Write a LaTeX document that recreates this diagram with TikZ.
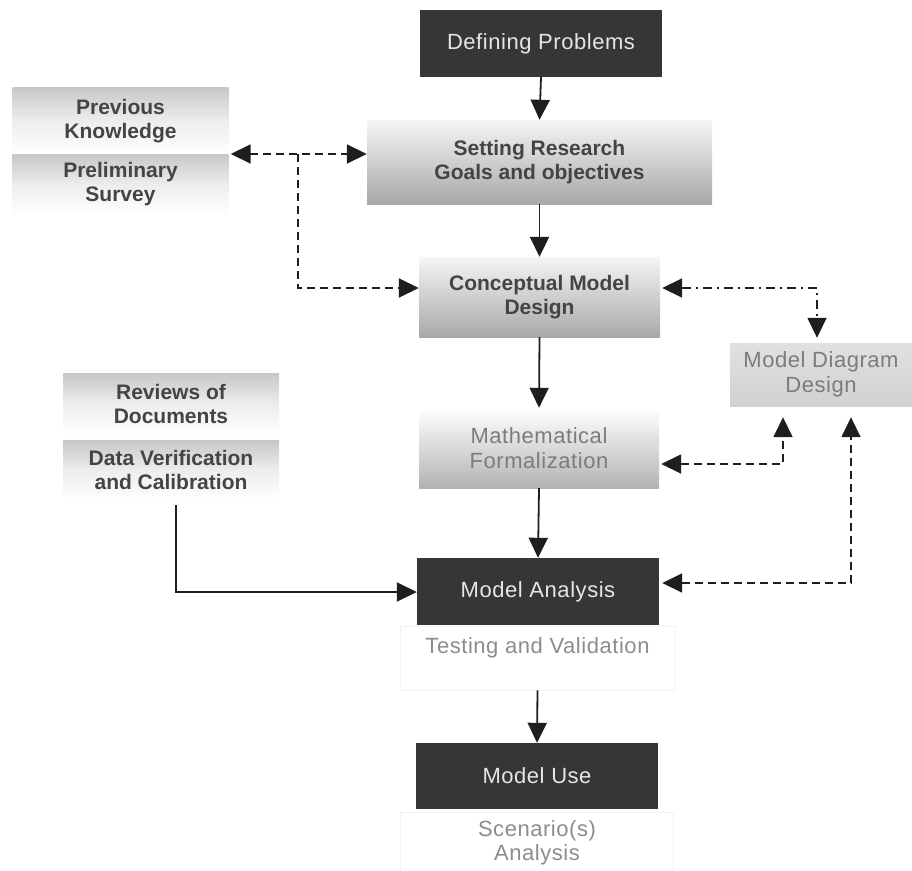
\documentclass[tikz,border=0pt]{standalone}
\usepackage{fontspec}
\setmainfont{Liberation Sans}
\newfontfamily\spacedfont[LetterSpace=2.5]{Liberation Sans}
\usetikzlibrary{arrows.meta,calc}

\definecolor{boxdark}{HTML}{363636}
\definecolor{textlight}{HTML}{E6E6E6}
\definecolor{textdark}{HTML}{444444}
\definecolor{textgray}{HTML}{7C7C7C}
\definecolor{textpale}{HTML}{8C8C8C}
\definecolor{linecol}{HTML}{1E1E1E}

\tikzset{
  basebox/.style={rectangle, inner sep=0pt, align=center,
    font=\spacedfont\fontsize{22}{24.5}\selectfont},
  darkbox/.style={basebox, fill=boxdark, text=textlight,
    minimum width=242pt, minimum height=67pt},
  boldtext/.style={font=\fontsize{21}{24}\selectfont\bfseries},
  shadebox/.style={basebox, top color=white!96!black, bottom color=black!34,
    text=textdark, boldtext},
  sidebox/.style={basebox, top color=black!22, bottom color=white,
    middle color=white!93!black, text=textdark, boldtext,
    minimum width=216pt},
  palebox/.style={rectangle, draw=black!5, line width=0.8pt, inner sep=0pt},
  paletext/.style={basebox, text=textpale},
  bigtip/.tip={Triangle[length=20pt,width=19pt]},
  flow/.style={draw=linecol, line width=1.8pt, -bigtip},
  link/.style={draw=linecol, line width=1.7pt, dash pattern=on 8pt off 5pt},
  linkdot/.style={draw=linecol, line width=1.7pt,
    dash pattern=on 9pt off 5pt on 2pt off 5pt},
}

\begin{document}
\begin{tikzpicture}[x=1pt,y=-1pt]
  \useasboundingbox (0,0) rectangle (912,870);

  % main column
  \node[darkbox] (def) at (541,43.5) {Defining Problems};
  \node[shadebox, minimum width=345pt, minimum height=84pt] (goals) at (539.5,162)
    {Setting Research\\Goals and objectives};
  \node[shadebox, minimum width=241pt, minimum height=80pt] (concept) at (539.5,297)
    {Conceptual Model\\Design};
  \node[basebox, top color=white, bottom color=black!30, text=textgray,
    minimum width=240pt, minimum height=80pt] (math) at (539,448)
    {Mathematical\\Formalization};
  \node[darkbox] (analysis) at (538,591.5) {Model Analysis};
  \node[palebox, minimum width=275pt, minimum height=64pt] (testbox) at (537.5,658) {};
  \node[paletext] (testing) at (537.5,648) {Testing and Validation};
  \node[darkbox, minimum height=66pt] (use) at (537,776) {Model Use};
  \node[palebox, minimum width=273pt, minimum height=60pt] (scenbox) at (536.5,842) {};
  \node[paletext] (scen) at (537,843) {Scenario(s)\\Analysis};

  % side column on the right
  \node[basebox, top color=black!12, bottom color=black!18, text=textgray,
    minimum width=182pt, minimum height=63pt] (mdd) at (821,374.5)
    {Model Diagram\\Design};

  % inputs on the left
  \node[sidebox, minimum height=68pt] (prev) at (120.5,121) {Previous\\Knowledge};
  \node[sidebox, minimum height=61pt] (prelim) at (120.5,184.5) {Preliminary\\Survey};
  \node[sidebox, minimum height=62pt] (reviews) at (171,404) {Reviews of\\Documents};
  \node[sidebox, minimum height=60pt] (data) at (171,470) {Data Verification\\and Calibration};

  % main flow
  \draw[flow] (def.south) -- (goals.north);
  \draw[flow] (goals.south) -- (concept.north);
  \draw[flow] (concept.south) -- (math.north);
  \draw[flow] (math.south) -- (analysis.north);
  \draw[flow] (testbox.south) -- (use.north);

  % feedback from prior knowledge
  \coordinate (j1) at (298,154);
  \coordinate (j2) at (298,288);
  \draw[link, bigtip-bigtip]
    ($(prev.east |- j1)+(2,0)$) -- (goals.west |- j1);
  \draw[link, -bigtip] (j1) -- (j2) -- (concept.west |- j2);

  % links with the model diagram
  \coordinate (c1) at (817,288);
  \draw[linkdot, bigtip-bigtip, shorten >=5pt]
    ($(concept.east |- c1)+(2,0)$) -- (c1) -- (c1 |- mdd.north);
  \coordinate (c2) at (783,464);
  \draw[link, bigtip-bigtip, shorten >=11pt]
    ($(math.east |- c2)+(2,0)$) -- (c2) -- (c2 |- mdd.south);
  \coordinate (c3) at (851,583);
  \draw[link, bigtip-bigtip, shorten >=11pt]
    ($(analysis.east |- c3)+(3,0)$) -- (c3) -- (c3 |- mdd.south);

  % data into the analysis
  \coordinate (d1) at (176,505);
  \coordinate (d2) at (176,592);
  \draw[flow] (d1) -- (d2) -- (analysis.west |- d2);
\end{tikzpicture}
\end{document}
